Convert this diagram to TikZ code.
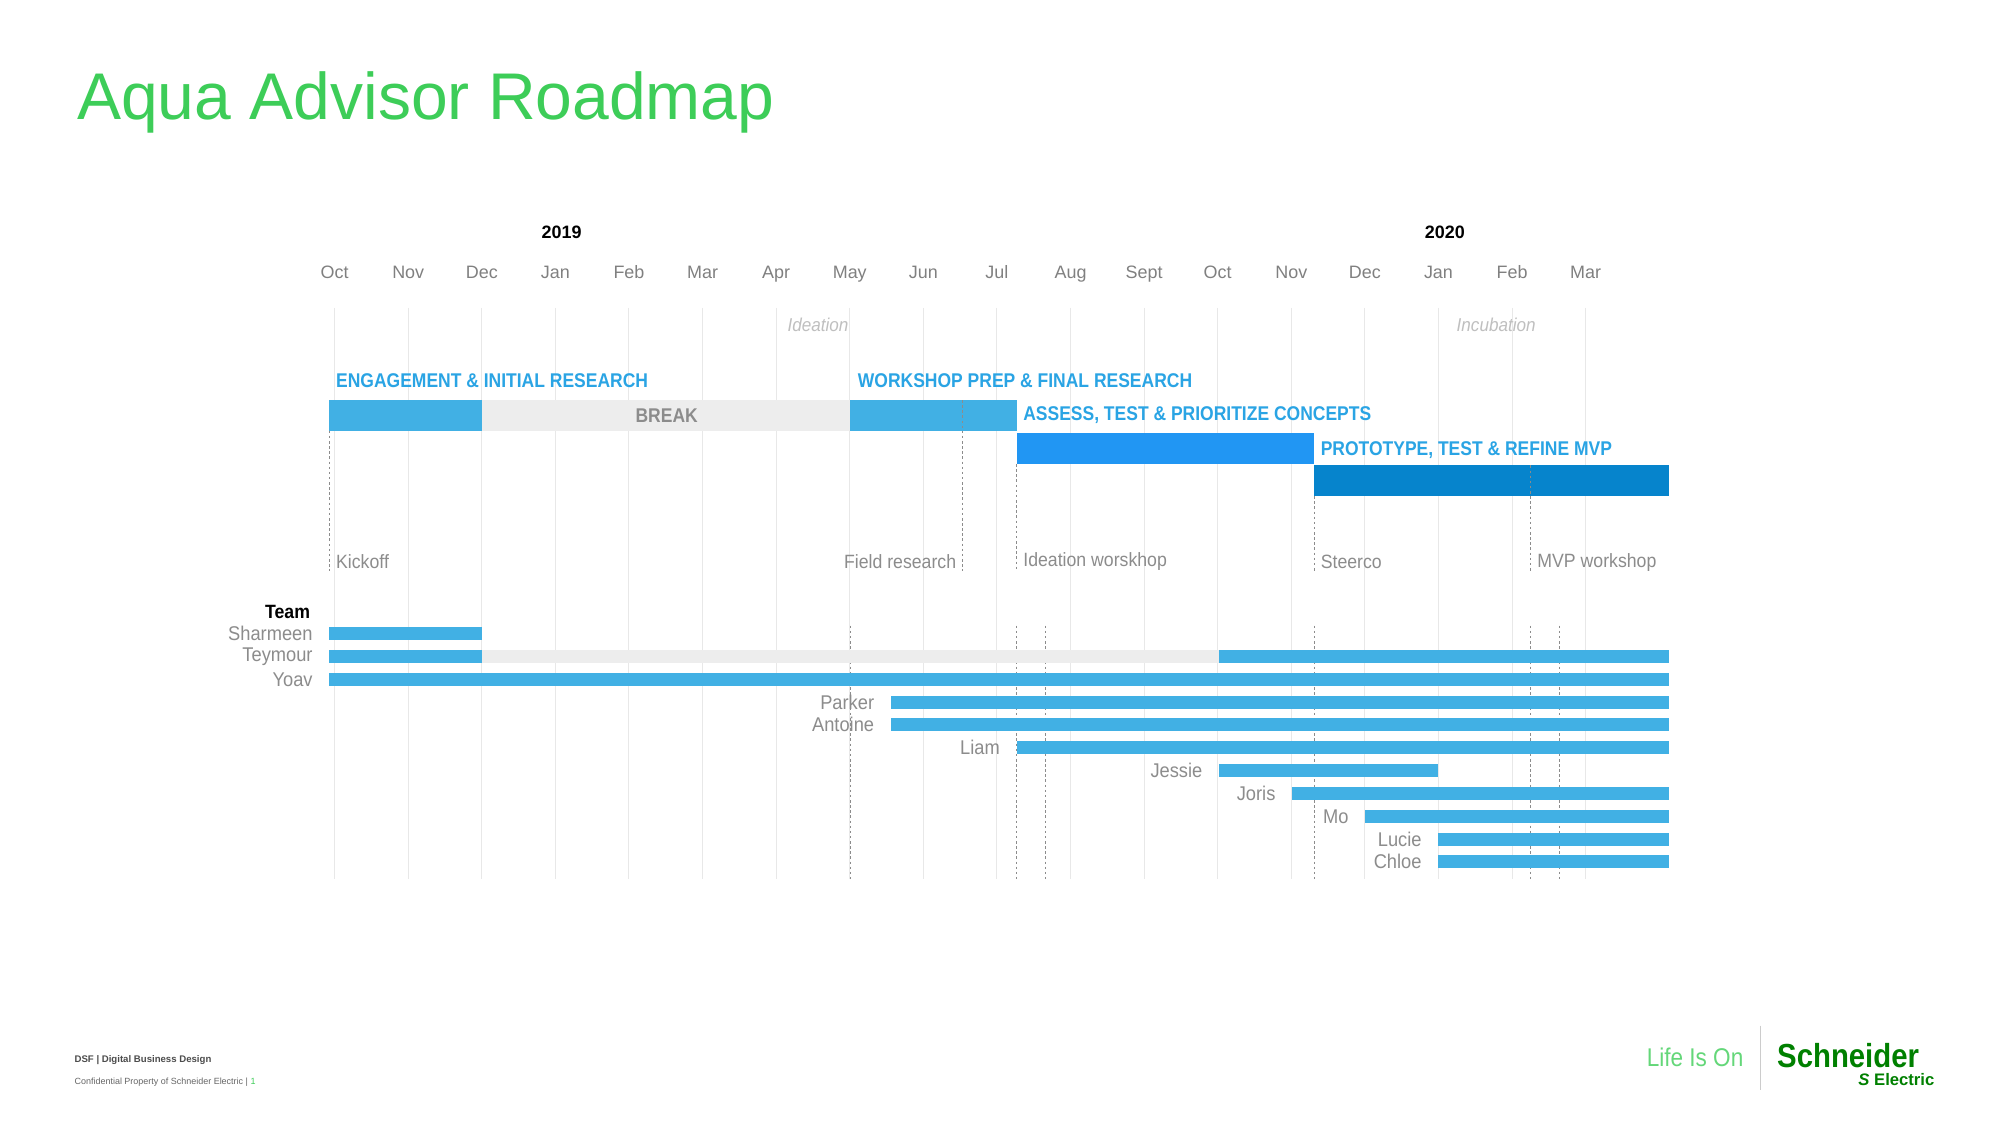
\documentclass[tikz,border=0pt]{standalone}
\usepackage{fontspec}
\setmainfont{Liberation Sans}
\newfontfamily\cond[FakeStretch=0.88]{Liberation Sans}
\newfontfamily\condl[FakeStretch=0.92]{Liberation Sans}
\begin{document}
\begin{tikzpicture}[x=1pt,y=-1pt,
  grid/.style={draw=black!9,line width=0.8pt},
  msdash/.style={draw=black!45,line width=0.6pt,dash pattern=on 2pt off 2pt},
  mon/.style={font=\fontsize{14}{14}\selectfont,text=black!50,inner sep=0,anchor=base},
  phase/.style={font=\cond\bfseries\fontsize{15.5}{15.5}\selectfont,text=ph,anchor=west,inner sep=0},
  ms/.style={font=\fontsize{15}{15}\selectfont\condl,text=black!45,inner sep=0},
  nm/.style={font=\fontsize{15.5}{15.5}\selectfont\condl,text=black!45,anchor=east,inner sep=0},
  ]
\definecolor{lb}{HTML}{41B0E4}
\definecolor{ph}{HTML}{2AA4E4}
\definecolor{mb}{HTML}{2196F3}
\definecolor{db}{HTML}{0684CC}
\definecolor{gr}{HTML}{3DCD58}
\definecolor{br}{HTML}{EDEDED}
\useasboundingbox (0,0) rectangle (1560,877.5);
\fill[white] (0,0) rectangle (1560,877.5);
\node[anchor=base west,inner sep=0,text=gr,font=\fontsize{51.5}{51.5}\selectfont] (title) at (60,93) {Aqua Advisor Roadmap};
% months
\foreach \m [count=\i from 0] in {Oct,Nov,Dec,Jan,Feb,Mar,Apr,May,Jun,Jul,Aug,Sept,Oct,Nov,Dec,Jan,Feb,Mar}{
  \pgfmathsetmacro\xx{261+57.4*\i}
  \draw[grid] (\xx,240) -- (\xx,686);
  \node[mon] (m\i) at (\xx,217) {\m};
}
\node[font=\bfseries\fontsize{14}{14}\selectfont,inner sep=0] (y19) at (438,181) {2019};
\node[font=\bfseries\fontsize{14}{14}\selectfont,inner sep=0] (y20) at (1127,181) {2020};
\node[font=\itshape\fontsize{14.5}{14.5}\selectfont\condl,text=black!25,inner sep=0] (ide) at (638,253) {Ideation};
\node[font=\itshape\fontsize{14.5}{14.5}\selectfont\condl,text=black!25,inner sep=0] (inc) at (1167,253) {Incubation};
% phases
\fill[lb] (257,312) rectangle (376,336);
\fill[br] (376,312) rectangle (663,336);
\node[font=\cond\bfseries\fontsize{15.5}{15.5}\selectfont,text=black!45,inner sep=0] (brk) at (520,324) {BREAK};
\fill[lb] (663,312) rectangle (793,336);
\fill[mb] (793,338) rectangle (1025,362);
\fill[db] (1025,363) rectangle (1302,387);
\node[phase] (p1) at (262,297) {ENGAGEMENT \& INITIAL RESEARCH};
\node[phase] (p2) at (669,297) {WORKSHOP PREP \& FINAL RESEARCH};
\node[phase] (p3) at (798,324) {ASSESS, TEST \& PRIORITIZE CONCEPTS};
\node[phase] (p4) at (1030,351) {PROTOTYPE, TEST \& REFINE MVP};
% milestones
\draw[msdash] (257,336) -- (257,445);
\draw[msdash] (751,312) -- (751,445);
\draw[msdash] (793,362) -- (793,445);
\draw[msdash] (1025,387) -- (1025,445);
\draw[msdash] (1194,363) -- (1194,445);
\node[ms,anchor=west] (k) at (262,438) {Kickoff};
\node[ms,anchor=east] (f) at (746,438) {Field research};
\node[ms,anchor=west] (iw) at (798,438) {Ideation worskhop};
\node[ms,anchor=west] (st) at (1030,438) {Steerco};
\node[ms,anchor=west] (mv) at (1199,439) {MVP workshop};
% team
\foreach \x in {663,793,815,1025,1194,1216} \draw[msdash] (\x,488) -- (\x,686);
\node[font=\bfseries\fontsize{15}{15}\selectfont\condl,anchor=east,inner sep=0] (team) at (242,477) {Team};
\fill[br] (376,507) rectangle (951,517);
\foreach \n/\y/\lx/\a/\b in {Sharmeen/494/244/257/376, Teymour/512/244/257/376, Yoav/530/244/257/1302,
  Parker/548/682/695/1302, Antoine/565/682/695/1302, Liam/583/780/793/1302, Jessie/601/938/951/1122,
  Joris/619/995/1008/1302, Mo/637/1052/1065/1302, Lucie/655/1109/1122/1302, Chloe/672/1109/1122/1302}{
  \fill[lb] (\a,\y-5) rectangle (\b,\y+5);
  \node[nm] (n\n) at (\lx,\y) {\n};
}
\fill[lb] (951,507) rectangle (1302,517);
% footer
\node[anchor=base west,inner sep=0,font=\bfseries\fontsize{7.5}{7.5}\selectfont,text=black!70] (f1) at (58,829) {DSF | Digital Business Design};
\node[anchor=base west,inner sep=0,font=\fontsize{7}{7}\selectfont,text=black!60] (f2) at (58,846) {Confidential Property of Schneider Electric | \textcolor{gr}{1}};
\node[anchor=base east,inner sep=0,font=\fontsize{20}{20}\selectfont\cond,text=gr!80] (lio) at (1360,832) {Life Is On};
\draw[black!20,line width=1pt] (1373,800) -- (1373,850);
\node[anchor=base west,inner sep=0,font=\bfseries\fontsize{26}{26}\selectfont\cond,text=green!50!black] (se) at (1386,833) {Schneider};
\node[anchor=base east,inner sep=0,font=\bfseries\fontsize{13}{13}\selectfont,text=green!50!black] (el) at (1509,847) {\textit{S} Electric};
\end{tikzpicture}
\end{document}
